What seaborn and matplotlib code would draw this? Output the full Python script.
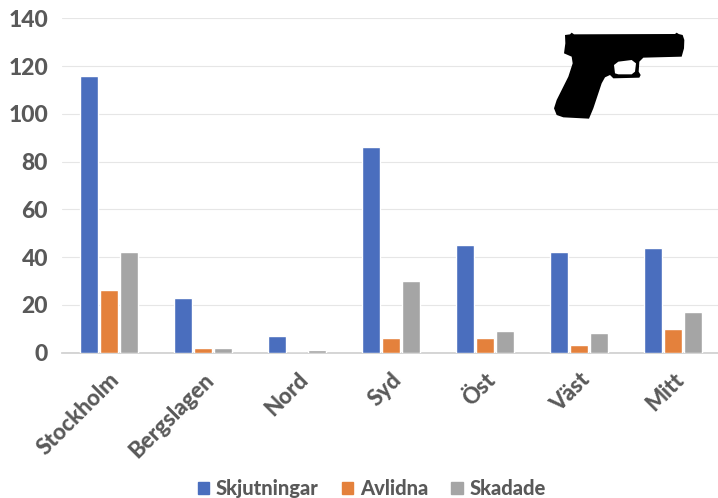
import matplotlib
matplotlib.use("Agg")
import matplotlib.pyplot as plt
from matplotlib.path import Path
from matplotlib.patches import PathPatch, Rectangle
import pandas as pd
import seaborn as sns

regions = ["Stockholm", "Bergslagen", "Nord", "Syd", "Öst", "Väst", "Mitt"]
skjutningar = [116, 23, 7, 86, 45, 42, 44]
avlidna = [26, 2, 0, 6, 6, 3, 10]
skadade = [42, 2, 1, 30, 9, 8, 17]
series_names = ["Skjutningar", "Avlidna", "Skadade"]
palette = ["#4A6EBE", "#E4813C", "#A5A5A5"]
yticks = [0, 20, 40, 60, 80, 100, 120, 140]

df = pd.DataFrame({"Region": regions, series_names[0]: skjutningar,
                   series_names[1]: avlidna, series_names[2]: skadade})
long = df.melt(id_vars="Region", var_name="Serie", value_name="Antal")

sns.set_theme(style="white")
plt.rcParams["font.family"] = ["Lato", "DejaVu Sans"]
fig = plt.figure(figsize=(7.18, 4.98), dpi=100)
ax = fig.add_axes([62/718, 1-352.5/498, (720-62)/718, (352.5-18.5)/498])
sns.barplot(data=long, x="Region", y="Antal", hue="Serie", palette=palette,
            hue_order=series_names, order=regions, width=0.635, gap=0.12,
            saturation=1, ax=ax, zorder=3)
ax.set_xlim(-0.5, 6.5)
ax.set_ylim(0, 140)
ax.set_yticks(yticks)
ax.set_xlabel("")
ax.set_ylabel("")
ax.grid(axis="y", color="#E6E6E6", lw=0.8, zorder=0)
ax.set_axisbelow(True)
for s in ["top", "left", "right"]:
    ax.spines[s].set_visible(False)
ax.spines["bottom"].set_color("#D0D0D0")
ax.tick_params(axis="y", length=0, labelsize=16.5, labelcolor="#595959", pad=10)
ax.tick_params(axis="x", length=0, labelsize=16, labelcolor="#595959", pad=12)
for t in ax.get_yticklabels():
    t.set_fontweight("black")
for t in ax.get_xticklabels():
    t.set_fontweight("black")
    t.set_rotation(45)
    t.set_ha("right")
    t.set_rotation_mode("anchor")
ax.get_legend().remove()

# Legend
handles = [Rectangle((0, 0), 1, 1, color=c) for c in palette]
fig.legend(handles, series_names, loc="lower center", ncol=3, frameon=False,
           bbox_to_anchor=(0.518, -0.037), prop={"size": 14.5, "weight": "black"},
           labelcolor="#595959", handlelength=0.55, handleheight=0.55,
           handletextpad=0.35, columnspacing=1.15)

# Pistol silhouette, traced in pixels of the decoration
W, H = 718.0, 498.0
def to_fig(zoom_pts):
    return [((540 + x / 3) / W, 1 - (20 + y / 3) / H) for x, y in zoom_pts]

outline = [(75,45),(90,43),(95,38),(102,43),(405,42),(410,38),(416,42),(428,45),(433,60),
           (432,85),(425,110),(310,113),(298,125),(296,155),(302,165),(298,173),(220,175),
           (210,165),(195,172),(185,190),(160,265),(147,296),(70,292),(50,285),(42,265),
           (50,240),(85,170),(98,130),(95,110),(72,100),(76,70),(75,45)]
hole = [(222,135),(235,125),(275,120),(288,130),(285,155),(275,163),(235,163),(225,160),(222,135)]
fig.add_artist(PathPatch(Path(to_fig(outline)), fc="black", ec="none",
                         transform=fig.transFigure, zorder=5))
fig.add_artist(PathPatch(Path(to_fig(hole)), fc="white", ec="none",
                         transform=fig.transFigure, zorder=6))
fig.savefig("out.png", dpi=100)
